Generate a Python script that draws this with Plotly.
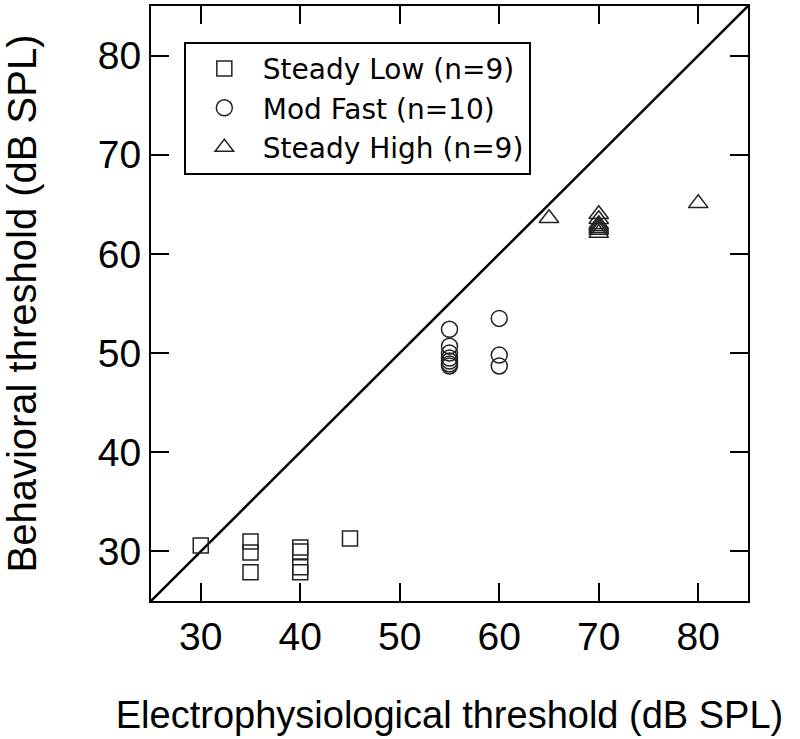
import plotly.graph_objects as go

# Data
low_x = [30, 35, 35, 35, 40, 40, 40, 40, 45]
low_y = [30.6, 31.0, 29.9, 27.9, 30.4, 30.0, 28.4, 27.9, 31.3]

fast_x = [55, 55, 55, 55, 55, 55, 55, 60, 60, 60]
fast_y = [52.4, 50.7, 50.0, 49.5, 49.2, 48.9, 48.7, 53.5, 49.8, 48.7]

high_x = [65, 70, 70, 70, 70, 70, 70, 70, 80]
high_y = [63.6, 64.0, 63.5, 63.0, 62.8, 62.6, 62.4, 62.1, 65.1]

identity = [25, 85]
tick_vals = [30, 40, 50, 60, 70, 80]
tick_text = ["30", "40", "50", "60", "70", "80"]

fig = go.Figure()
fig.add_trace(go.Scatter(x=identity, y=identity, mode="lines",
                         line=dict(color="black", width=2.5),
                         showlegend=False, hoverinfo="skip"))
fig.add_trace(go.Scatter(x=low_x, y=low_y, mode="markers", name="Steady Low (n=9)",
                         marker=dict(symbol="square-open", size=15,
                                     color="#222", line=dict(color="#222", width=1.5))))
fig.add_trace(go.Scatter(x=fast_x, y=fast_y, mode="markers", name="Mod Fast (n=10)",
                         marker=dict(symbol="circle-open", size=16,
                                     color="#222", line=dict(color="#222", width=1.5))))
fig.add_trace(go.Scatter(x=high_x, y=high_y, mode="markers", name="Steady High (n=9)",
                         marker=dict(symbol="triangle-up-open", size=17,
                                     color="#222", line=dict(color="#222", width=1.5))))

axis_common = dict(
    range=[25, 85], tickvals=tick_vals, ticktext=tick_text,
    ticks="inside", ticklen=18, tickwidth=2, tickcolor="black",
    showline=True, linecolor="black", linewidth=2, mirror="ticks",
    showgrid=False, zeroline=False,
    tickfont=dict(family="Liberation Sans, Arial, sans-serif", size=39, color="black"),
)

fig.update_layout(
    width=800, height=739,
    paper_bgcolor="white", plot_bgcolor="white",
    margin=dict(l=151, r=52, t=4, b=138),
    xaxis=dict(**axis_common,
               title=dict(text="Electrophysiological threshold (dB SPL)",
                          font=dict(family="Liberation Sans, Arial, sans-serif", size=38, color="black"),
                          standoff=45)),
    yaxis=dict(**axis_common,
               title=dict(text="Behavioral threshold (dB SPL)",
                          font=dict(family="Liberation Sans, Arial, sans-serif", size=40, color="black"),
                          standoff=61)),
    legend=dict(x=0.055, y=0.94, xanchor="left", yanchor="top",
                bordercolor="black", borderwidth=2, bgcolor="white",
                font=dict(family="DejaVu Sans, sans-serif", size=28, color="black"),
                itemwidth=67, tracegroupgap=0),
    showlegend=True,
)

fig.write_html("out.html", config={"displayModeBar": False},
               post_script="document.body.style.margin='0px';")
